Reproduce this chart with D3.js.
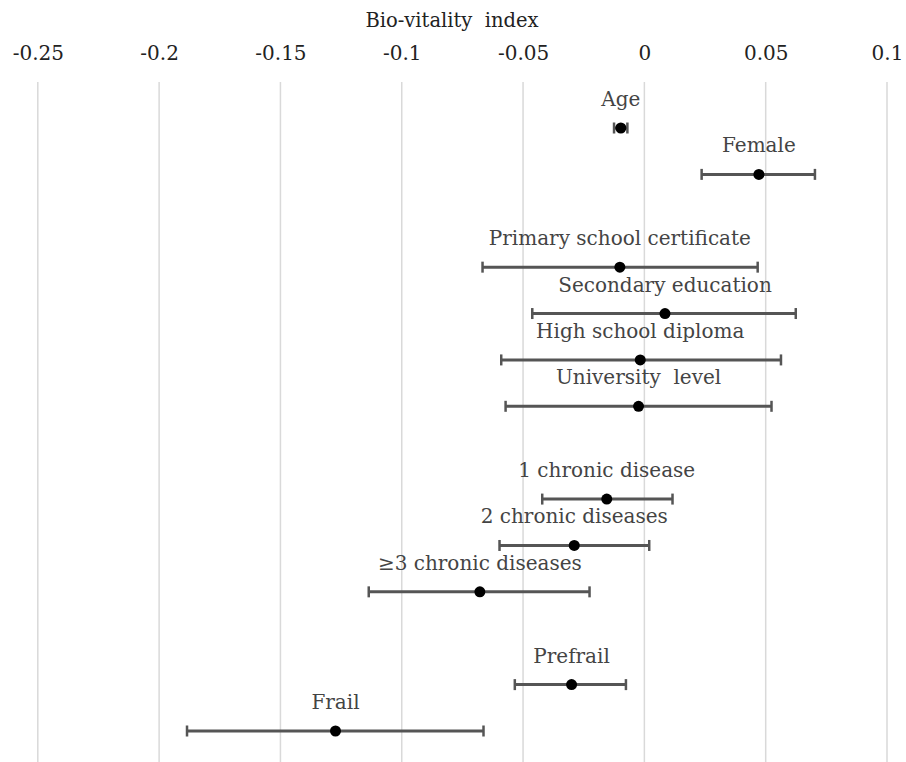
<!DOCTYPE html>
<html>
<head>
<meta charset="utf-8">
<script src="https://cdn.jsdelivr.net/npm/d3@7"></script>
<style>
  html, body { margin: 0; padding: 0; background: #fff; }
  svg { display: block; }
  svg text { font-family: "DejaVu Serif", serif; }
</style>
</head>
<body>
<svg id="chart" width="906" height="762"></svg>
<script>
// Rows (gap entries are spacer rows between groups)
const rows = ["Age", "Female", "gap1", "Primary school certificate", "Secondary education",
  "High school diploma", "University  level", "gap2", "1 chronic disease", "2 chronic diseases",
  "\u22653 chronic diseases", "gap3", "Prefrail", "Frail"];
const labels = ["Age", "Female", "Primary school certificate", "Secondary education",
  "High school diploma", "University  level", "1 chronic disease", "2 chronic diseases",
  "\u22653 chronic diseases", "Prefrail", "Frail"];
const estimates = [-0.0097, 0.0472, -0.0101, 0.0085, -0.0017, -0.0024, -0.0155, -0.0289, -0.0678, -0.0300, -0.1273];
const lower =     [-0.0125, 0.0236, -0.0667, -0.0462, -0.0590, -0.0572, -0.0421, -0.0597, -0.1136, -0.0534, -0.1885];
const upper =     [-0.0070, 0.0703, 0.0467, 0.0624, 0.0563, 0.0524, 0.0116, 0.0020, -0.0226, -0.0076, -0.0663];
const tickValues = [-0.25, -0.2, -0.15, -0.1, -0.05, 0, 0.05, 0.1];
const tickLabels = ["-0.25", "-0.2", "-0.15", "-0.1", "-0.05", "0", "0.05", "0.1"];
const axisTitle = "Bio-vitality  index";

const svg = d3.select("#chart");

const x = d3.scaleLinear().domain([-0.25, 0.1]).range([37.8, 887]);
const y = d3.scalePoint().domain(rows).range([128, 731]);

svg.append("g").selectAll("line").data(tickValues).join("line")
  .attr("x1", d => x(d)).attr("x2", d => x(d))
  .attr("y1", 82).attr("y2", 762)
  .attr("stroke", "#d9d9d9").attr("stroke-width", 1.5);

const axis = d3.axisTop(x).tickValues(tickValues)
  .tickFormat((d, i) => tickLabels[i]).tickSize(0).tickPadding(0);
const ag = svg.append("g").attr("transform", "translate(0,60)").call(axis);
ag.attr("font-family", null).attr("font-size", null);
ag.select(".domain").remove();
ag.selectAll("text").style("font-size", "20px")
  .attr("fill", "#222").attr("dy", 0);

svg.append("text").attr("x", 452).attr("y", 27).attr("text-anchor", "middle")
  .style("font-size", "19.5px").attr("fill", "#222")
  .style("white-space", "pre").text(axisTitle);

const data = labels.map((l, i) => ({label: l, est: estimates[i], lo: lower[i], hi: upper[i]}));

const g = svg.append("g");
const items = g.selectAll("g.item").data(data).join("g").attr("class", "item");
items.append("line")
  .attr("x1", d => x(d.lo)).attr("x2", d => x(d.hi))
  .attr("y1", d => y(d.label)).attr("y2", d => y(d.label))
  .attr("stroke", "#555").attr("stroke-width", 3);
items.append("line")
  .attr("x1", d => x(d.lo)).attr("x2", d => x(d.lo))
  .attr("y1", d => y(d.label) - 5.5).attr("y2", d => y(d.label) + 5.5)
  .attr("stroke", "#555").attr("stroke-width", 2.5);
items.append("line")
  .attr("x1", d => x(d.hi)).attr("x2", d => x(d.hi))
  .attr("y1", d => y(d.label) - 5.5).attr("y2", d => y(d.label) + 5.5)
  .attr("stroke", "#555").attr("stroke-width", 2.5);
items.append("circle")
  .attr("cx", d => x(d.est)).attr("cy", d => y(d.label))
  .attr("r", 5.5).attr("fill", "#000");
items.append("text")
  .attr("x", d => x(d.est)).attr("y", d => y(d.label) - 22)
  .attr("text-anchor", "middle")
  .style("font-size", "20px").attr("fill", "#444")
  .style("white-space", "pre")
  .text(d => d.label);
</script>
</body>
</html>
